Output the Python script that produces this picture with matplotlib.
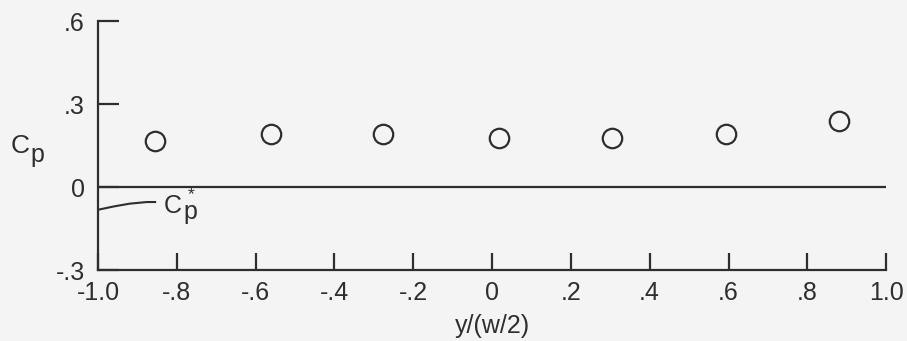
import matplotlib
matplotlib.use("Agg")
import matplotlib.pyplot as plt

plt.rcParams["font.family"] = ["Liberation Sans", "DejaVu Sans"]

# spanwise pressure coefficient
span = [-0.855, -0.561, -0.277, 0.018, 0.305, 0.594, 0.881]
cp = [0.166, 0.192, 0.192, 0.177, 0.177, 0.192, 0.239]

# critical pressure coefficient curve near the edge
cpstar_y = [-1.0, -0.96, -0.92, -0.876, -0.855]
cpstar = [-0.082, -0.070, -0.060, -0.054, -0.054]

xticks = [-1.0, -0.8, -0.6, -0.4, -0.2, 0, 0.2, 0.4, 0.6, 0.8, 1.0]
xlabels = ["-1.0", "-.8", "-.6", "-.4", "-.2", "0", ".2", ".4", ".6", ".8", "1.0"]
yticks = [-0.3, 0, 0.3, 0.6]
ylabels = ["-.3", "0", ".3", ".6"]

ink = "#2e2e2e"
bg = "#f4f4f4"
W, H = 907, 341

fig = plt.figure(figsize=(W / 100, H / 100), dpi=100, facecolor=bg)
ax = fig.add_axes([0.108, 0.208, 0.869, 0.730], facecolor=bg)

ax.axhline(0, color=ink, lw=1.6)
ax.plot(cpstar_y, cpstar, color=ink, lw=1.5)
ax.plot(span, cp, "o", ms=14, mfc="none", mec=ink, mew=1.6)


def px_text(x, y, s, size, **kw):
    # place text by pixel position measured from the top-left corner
    fig.text(x / W, 1 - y / H, s, fontsize=size, color=ink, va="baseline",
             ha="left", **kw)


# axis label C_p
px_text(11, 153, "C", 19)
px_text(30, 162, "p", 18)

# C_p* label next to the curve, asterisk stacked over the p
px_text(164, 213, "C", 18)
px_text(183, 220, r"$\mathregular{\overset{*}{p}}$", 18)

ax.set_xlim(-1.0, 1.0)
ax.set_ylim(-0.3, 0.6)
ax.set_xticks(xticks)
ax.set_xticklabels(xlabels)
ax.set_yticks(yticks)
ax.set_yticklabels(ylabels)
ax.set_xlabel("y/(w/2)", fontsize=18, color=ink, labelpad=6)

for side in ["top", "right"]:
    ax.spines[side].set_visible(False)
for side in ["left", "bottom"]:
    ax.spines[side].set_color(ink)
    ax.spines[side].set_linewidth(1.6)

ax.tick_params(direction="in", width=1.6, color=ink,
               labelsize=18, labelcolor=ink)
ax.tick_params(axis="x", length=12, pad=8)
ax.tick_params(axis="y", length=15, pad=9.5)

fig.savefig("out.png", dpi=100, facecolor=bg)
